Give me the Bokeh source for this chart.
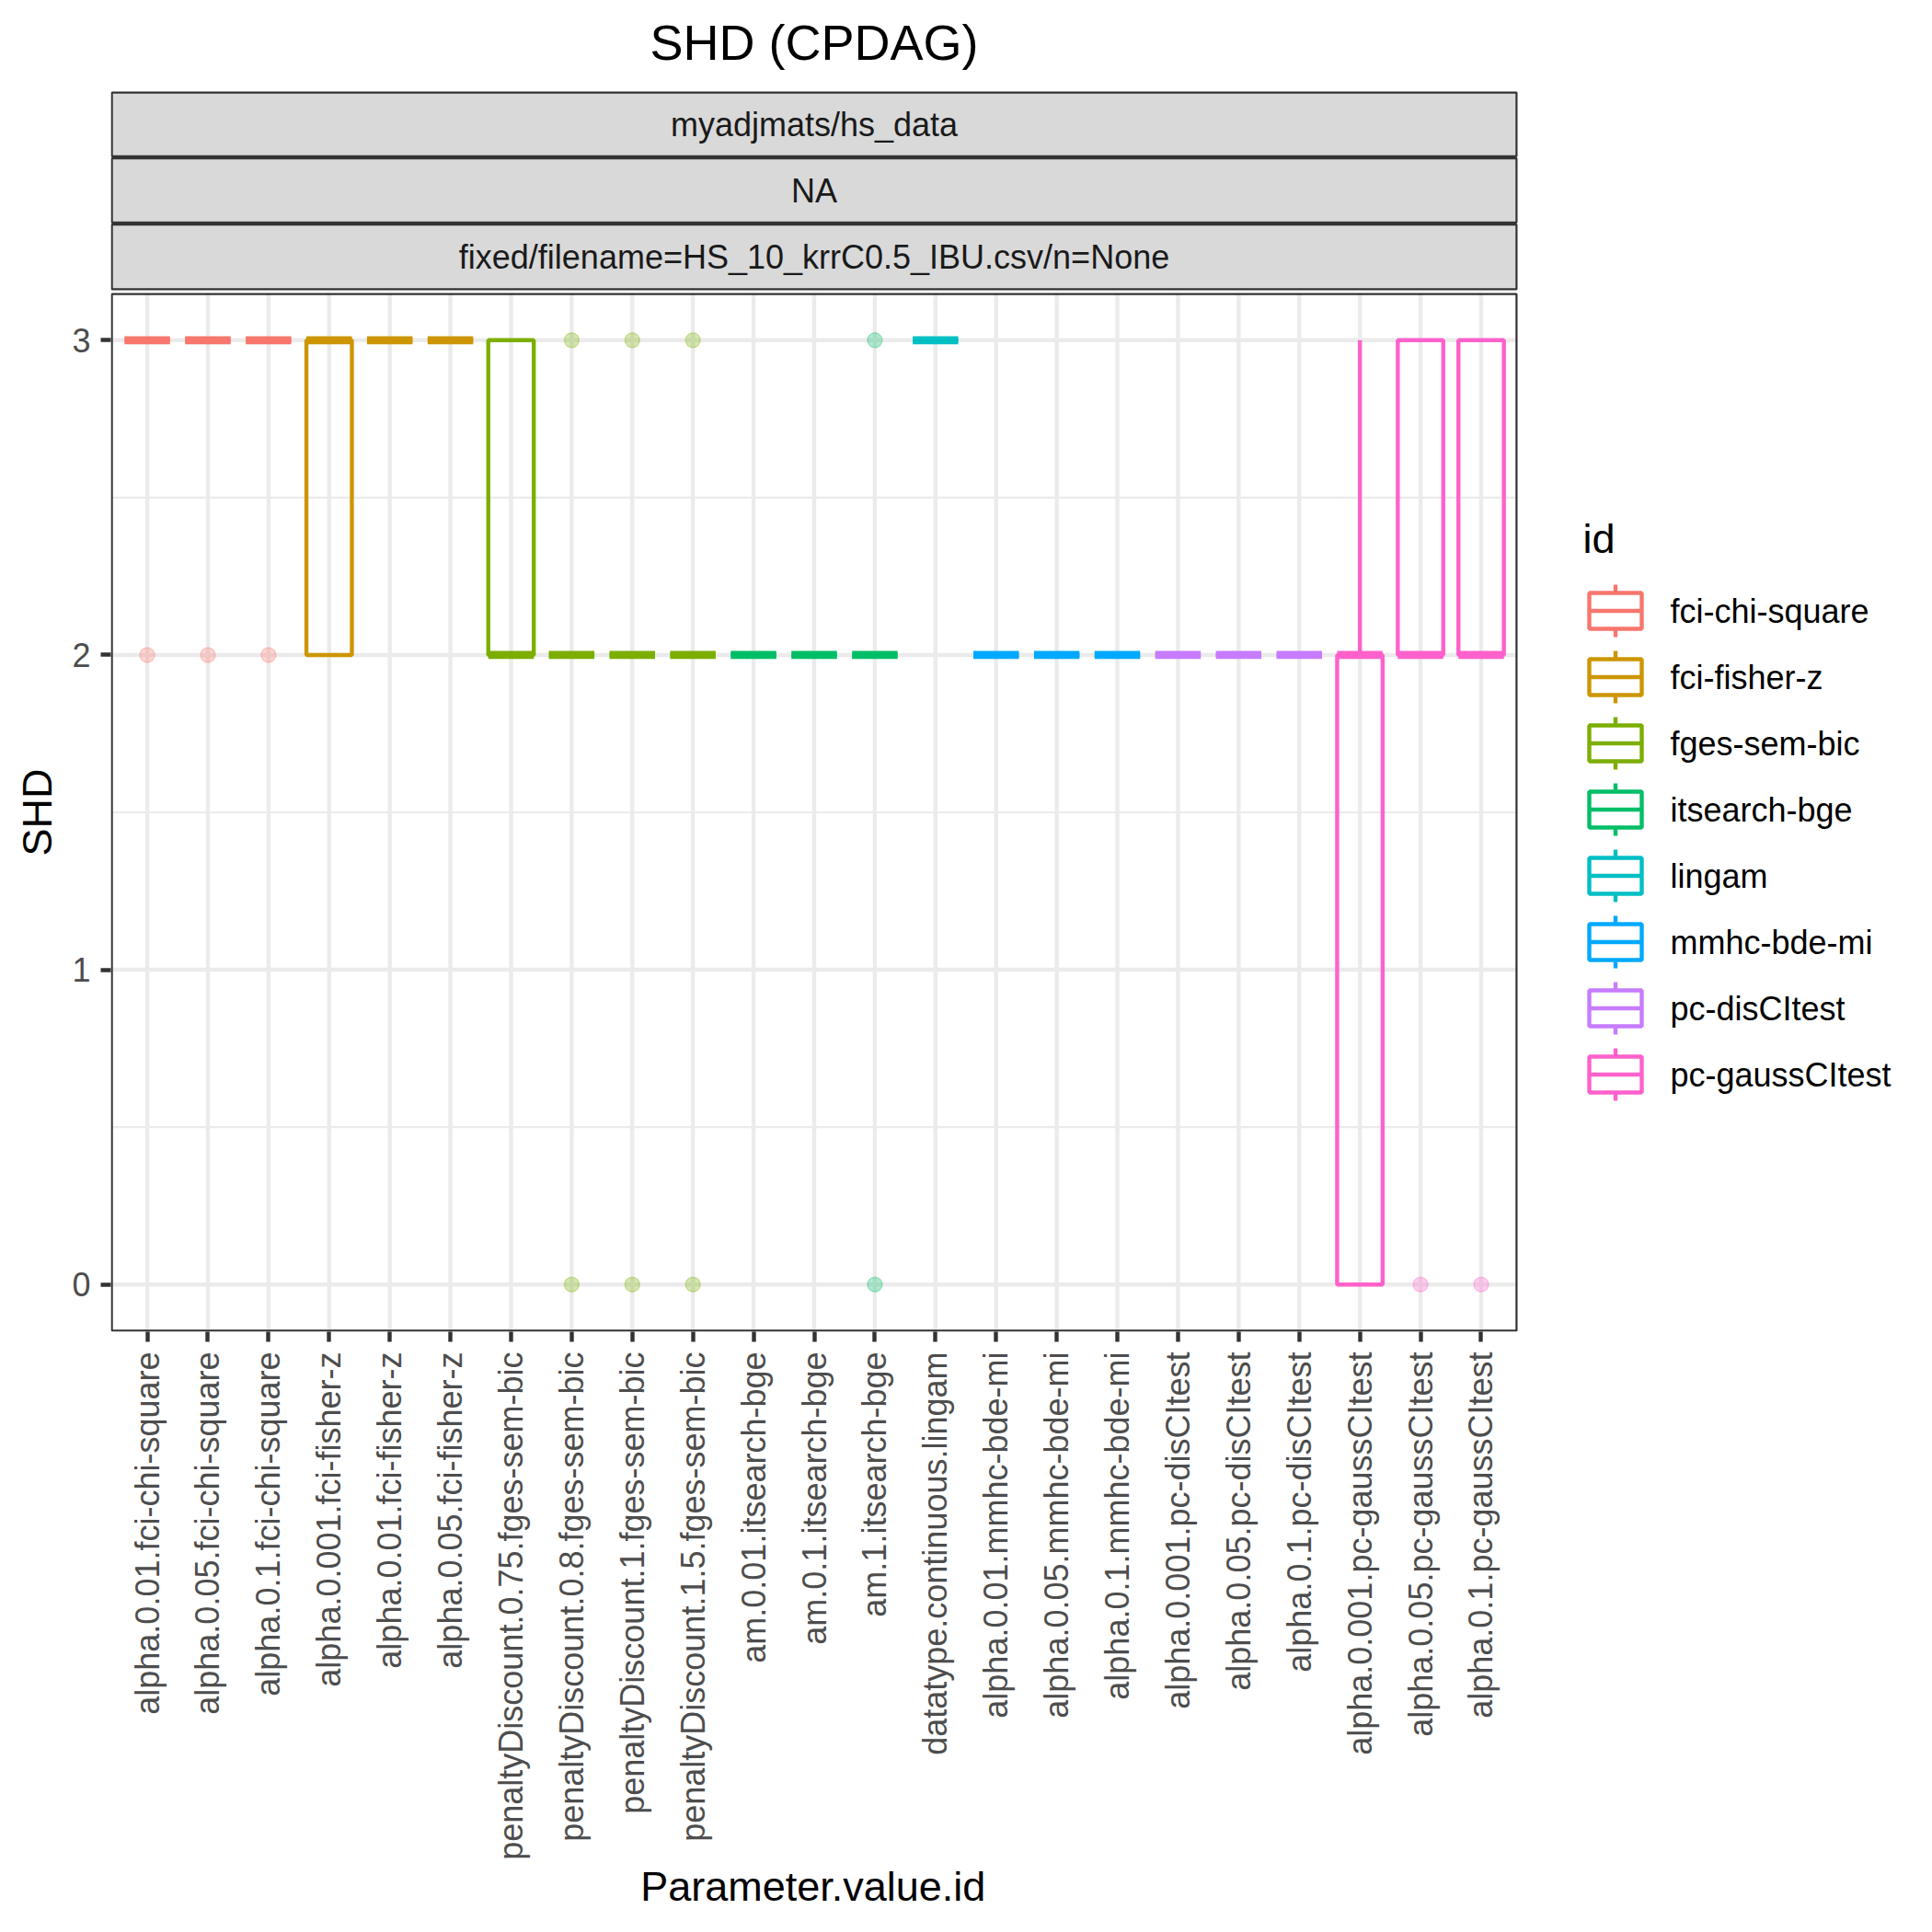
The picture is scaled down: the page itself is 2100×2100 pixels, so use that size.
import numpy as np
from bokeh.plotting import figure
from bokeh.models import Range1d, FixedTicker, Title
from bokeh.core.properties import value
from bokeh.embed import file_html
from bokeh.resources import INLINE

# ---------------- data ----------------
categories = [
    "alpha.0.01.fci-chi-square", "alpha.0.05.fci-chi-square", "alpha.0.1.fci-chi-square",
    "alpha.0.001.fci-fisher-z", "alpha.0.01.fci-fisher-z", "alpha.0.05.fci-fisher-z",
    "penaltyDiscount.0.75.fges-sem-bic", "penaltyDiscount.0.8.fges-sem-bic",
    "penaltyDiscount.1.fges-sem-bic", "penaltyDiscount.1.5.fges-sem-bic",
    "am.0.01.itsearch-bge", "am.0.1.itsearch-bge", "am.1.itsearch-bge",
    "datatype.continuous.lingam",
    "alpha.0.01.mmhc-bde-mi", "alpha.0.05.mmhc-bde-mi", "alpha.0.1.mmhc-bde-mi",
    "alpha.0.001.pc-disCItest", "alpha.0.05.pc-disCItest", "alpha.0.1.pc-disCItest",
    "alpha.0.001.pc-gaussCItest", "alpha.0.05.pc-gaussCItest", "alpha.0.1.pc-gaussCItest",
]
category_group = [
    "fci-chi-square", "fci-chi-square", "fci-chi-square",
    "fci-fisher-z", "fci-fisher-z", "fci-fisher-z",
    "fges-sem-bic", "fges-sem-bic", "fges-sem-bic", "fges-sem-bic",
    "itsearch-bge", "itsearch-bge", "itsearch-bge",
    "lingam",
    "mmhc-bde-mi", "mmhc-bde-mi", "mmhc-bde-mi",
    "pc-disCItest", "pc-disCItest", "pc-disCItest",
    "pc-gaussCItest", "pc-gaussCItest", "pc-gaussCItest",
]
box_q1 =       [3, 3, 3, 2, 3, 3, 2, 2, 2, 2, 2, 2, 2, 3, 2, 2, 2, 2, 2, 2, 0, 2, 2]
box_median =   [3, 3, 3, 3, 3, 3, 2, 2, 2, 2, 2, 2, 2, 3, 2, 2, 2, 2, 2, 2, 2, 2, 2]
box_q3 =       [3, 3, 3, 3, 3, 3, 3, 2, 2, 2, 2, 2, 2, 3, 2, 2, 2, 2, 2, 2, 2, 3, 3]
whisker_low =  [3, 3, 3, 2, 3, 3, 2, 2, 2, 2, 2, 2, 2, 3, 2, 2, 2, 2, 2, 2, 0, 2, 2]
whisker_high = [3, 3, 3, 3, 3, 3, 3, 2, 2, 2, 2, 2, 2, 3, 2, 2, 2, 2, 2, 2, 3, 3, 3]
outliers = [[2], [2], [2], [], [], [], [], [3, 0], [3, 0], [3, 0], [], [], [3, 0], [],
            [], [], [], [], [], [], [], [0], [0]]

groups = ["fci-chi-square", "fci-fisher-z", "fges-sem-bic", "itsearch-bge",
          "lingam", "mmhc-bde-mi", "pc-disCItest", "pc-gaussCItest"]
group_colors = ["#F8766D", "#CD9600", "#7CAE00", "#00BE67",
                "#00BFC4", "#00A9FF", "#C77CFF", "#FF61CC"]

y_ticks = [0, 1, 2, 3]
y_minor = [0.5, 1.5, 2.5]
strip_labels = ["myadjmats/hs_data", "NA", "fixed/filename=HS_10_krrC0.5_IBU.csv/n=None"]
title_text = "SHD (CPDAG)"
x_title = "Parameter.value.id"
y_title = "SHD"
legend_title = "id"

# ---------------- layout (reference pixel coordinates) ----------------
W = H = 2084
PL, PR, PT, PB = 120, 1649, 318, 1447        # panel
FL, FR, FT, FB = PL, W, 0, PB                 # plotting frame
X0, X1 = 0.4, len(categories) + 0.6
Y0, Y1 = -0.15, 3.15
sx = (X1 - X0) / (PR - PL)
sy = (Y1 - Y0) / (PB - PT)
X_END = X1 + (FR - PR) * sx
Y_END = Y1 + (PT - FT) * sy

FONT = "Liberation Sans"
BOX_W = 0.75
LW = 4.4
TICK_FS = "36px"
STRIP_FS = "36px"
TITLE_FS = "54px"
AXT_FS = "45px"
AXT_PX = 45.0

p = figure(width=W, height=H, title=None,
           x_range=Range1d(X0, X_END), y_range=Range1d(Y0, Y_END),
           output_backend="svg", toolbar_location=None,
           min_border_left=PL, min_border_right=0,
           min_border_top=0, min_border_bottom=H - PB)
p.extra_x_ranges = {"px": Range1d(FL, FR)}
p.extra_y_ranges = {"px": Range1d(FB, FT)}
p.outline_line_color = None
p.xgrid.visible = False
p.ygrid.visible = False
p.background_fill_color = "white"
p.border_fill_color = "white"

# axes
p.xaxis.ticker = FixedTicker(ticks=list(range(1, len(categories) + 1)))
p.xaxis.major_label_overrides = {i + 1: c for i, c in enumerate(categories)}
p.xaxis.major_label_orientation = np.pi / 2
p.yaxis.ticker = FixedTicker(ticks=y_ticks)
for ax in (p.xaxis, p.yaxis):
    ax.axis_line_color = None
    ax.minor_tick_line_color = None
    ax.major_tick_line_color = "#333333"
    ax.major_tick_line_width = LW
    ax.major_tick_out = 11
    ax.major_tick_in = 0
    ax.major_label_text_font = FONT
    ax.major_label_text_font_size = TICK_FS
    ax.major_label_text_color = "#4D4D4D"
p.xaxis.major_label_standoff = 11
p.yaxis.major_label_standoff = 11

# axis titles (as side titles so they can be centred on the panel)
x_title_w = 8.392 * AXT_PX      # advance width of the text in em units * size
y_title_w = 2.111 * AXT_PX
p.add_layout(Title(text=x_title, align="left",
                   offset=(PL + PR) / 2 - x_title_w / 2 - FL,
                   standoff=1, vertical_align="top",
                   text_font=FONT, text_font_size=AXT_FS, text_font_style="normal",
                   text_color="black"), "below")
p.add_layout(Title(text=y_title, align="left",
                   offset=FB - ((PT + PB) / 2 + y_title_w / 2),
                   standoff=19,
                   text_font=FONT, text_font_size=AXT_FS, text_font_style="normal",
                   text_color="black"), "left")

# panel background grid
xs = np.arange(1, len(categories) + 1)
p.segment(x0=xs, x1=xs, y0=Y0, y1=Y1, line_color="#EBEBEB", line_width=LW)
p.segment(x0=X0, x1=X1, y0=y_minor, y1=y_minor, line_color="#EBEBEB", line_width=LW / 2)
p.segment(x0=X0, x1=X1, y0=y_ticks, y1=y_ticks, line_color="#EBEBEB", line_width=LW)

# boxplots
col = [group_colors[groups.index(g)] for g in category_group]
q1 = np.array(box_q1, float)
q3 = np.array(box_q3, float)
med = np.array(box_median, float)
wl = np.array(whisker_low, float)
wh = np.array(whisker_high, float)

ox, oy, oc = [], [], []
for i, vals in enumerate(outliers):
    for v in vals:
        ox.append(xs[i]); oy.append(v); oc.append(col[i])
p.scatter(x=ox, y=oy, size=16, marker="circle", fill_color=oc, line_color=oc,
          fill_alpha=0.3, line_alpha=0.3, line_width=1.5)

p.segment(x0=xs, x1=xs, y0=q3, y1=wh, line_color=col, line_width=LW)
p.segment(x0=xs, x1=xs, y0=q1, y1=wl, line_color=col, line_width=LW)
p.quad(left=xs - BOX_W / 2, right=xs + BOX_W / 2, bottom=q1, top=q3,
       fill_color=None, line_color=col, line_width=LW)
p.segment(x0=xs - BOX_W / 2, x1=xs + BOX_W / 2, y0=med, y1=med,
          line_color=col, line_width=2 * LW)

# panel border
p.quad(left=PL + 1.1, right=PR - 1.1, top=PT + 1.1, bottom=PB - 1.1,
       fill_color=None, line_color="#333333", line_width=2.2,
       x_range_name="px", y_range_name="px")

# facet strips
strip_top = [99, 170.5, 242.5]
strip_bot = [170.5, 242.5, 315]
p.quad(left=PL + 1.1, right=PR - 1.1,
       top=[t + 1.1 for t in strip_top], bottom=[b - 1.1 for b in strip_bot],
       fill_color="#D9D9D9", line_color="#333333", line_width=2.2,
       x_range_name="px", y_range_name="px")
p.text(x=(PL + PR) / 2, y=[(t + b) / 2 for t, b in zip(strip_top, strip_bot)],
       text=strip_labels, text_font=value(FONT), text_font_size=STRIP_FS,
       text_color="#1A1A1A", text_align="center", text_baseline="middle",
       x_range_name="px", y_range_name="px")

# plot title
p.text(x=[(PL + PR) / 2], y=[45], text=[title_text], text_font=value(FONT),
       text_font_size=TITLE_FS, text_color="black", text_align="center",
       text_baseline="middle", x_range_name="px", y_range_name="px")

# legend
LEG_X0, LEG_X1 = 1727, 1784
LEG_Y0, LEG_DY = 663.5, 72
cy = np.array([LEG_Y0 + i * LEG_DY for i in range(len(groups))])
cx = (LEG_X0 + LEG_X1) / 2
p.text(x=[1720], y=[585], text=[legend_title], text_font=value(FONT),
       text_font_size=AXT_FS, text_color="black", text_align="left",
       text_baseline="middle", x_range_name="px", y_range_name="px")
p.segment(x0=cx, x1=cx, y0=cy - 28.5, y1=cy + 28.5, line_color=group_colors,
          line_width=LW, x_range_name="px", y_range_name="px")
p.quad(left=LEG_X0, right=LEG_X1, top=cy - 19.5, bottom=cy + 19.5,
       fill_color="white", line_color=group_colors, line_width=LW,
       x_range_name="px", y_range_name="px")
p.segment(x0=LEG_X0, x1=LEG_X1, y0=cy, y1=cy, line_color=group_colors,
          line_width=LW, x_range_name="px", y_range_name="px")
p.text(x=1815, y=cy, text=groups, text_font=value(FONT),
       text_font_size=STRIP_FS, text_color="black", text_align="left",
       text_baseline="middle", x_range_name="px", y_range_name="px")

open("out.html", "w").write(file_html(p, INLINE))
